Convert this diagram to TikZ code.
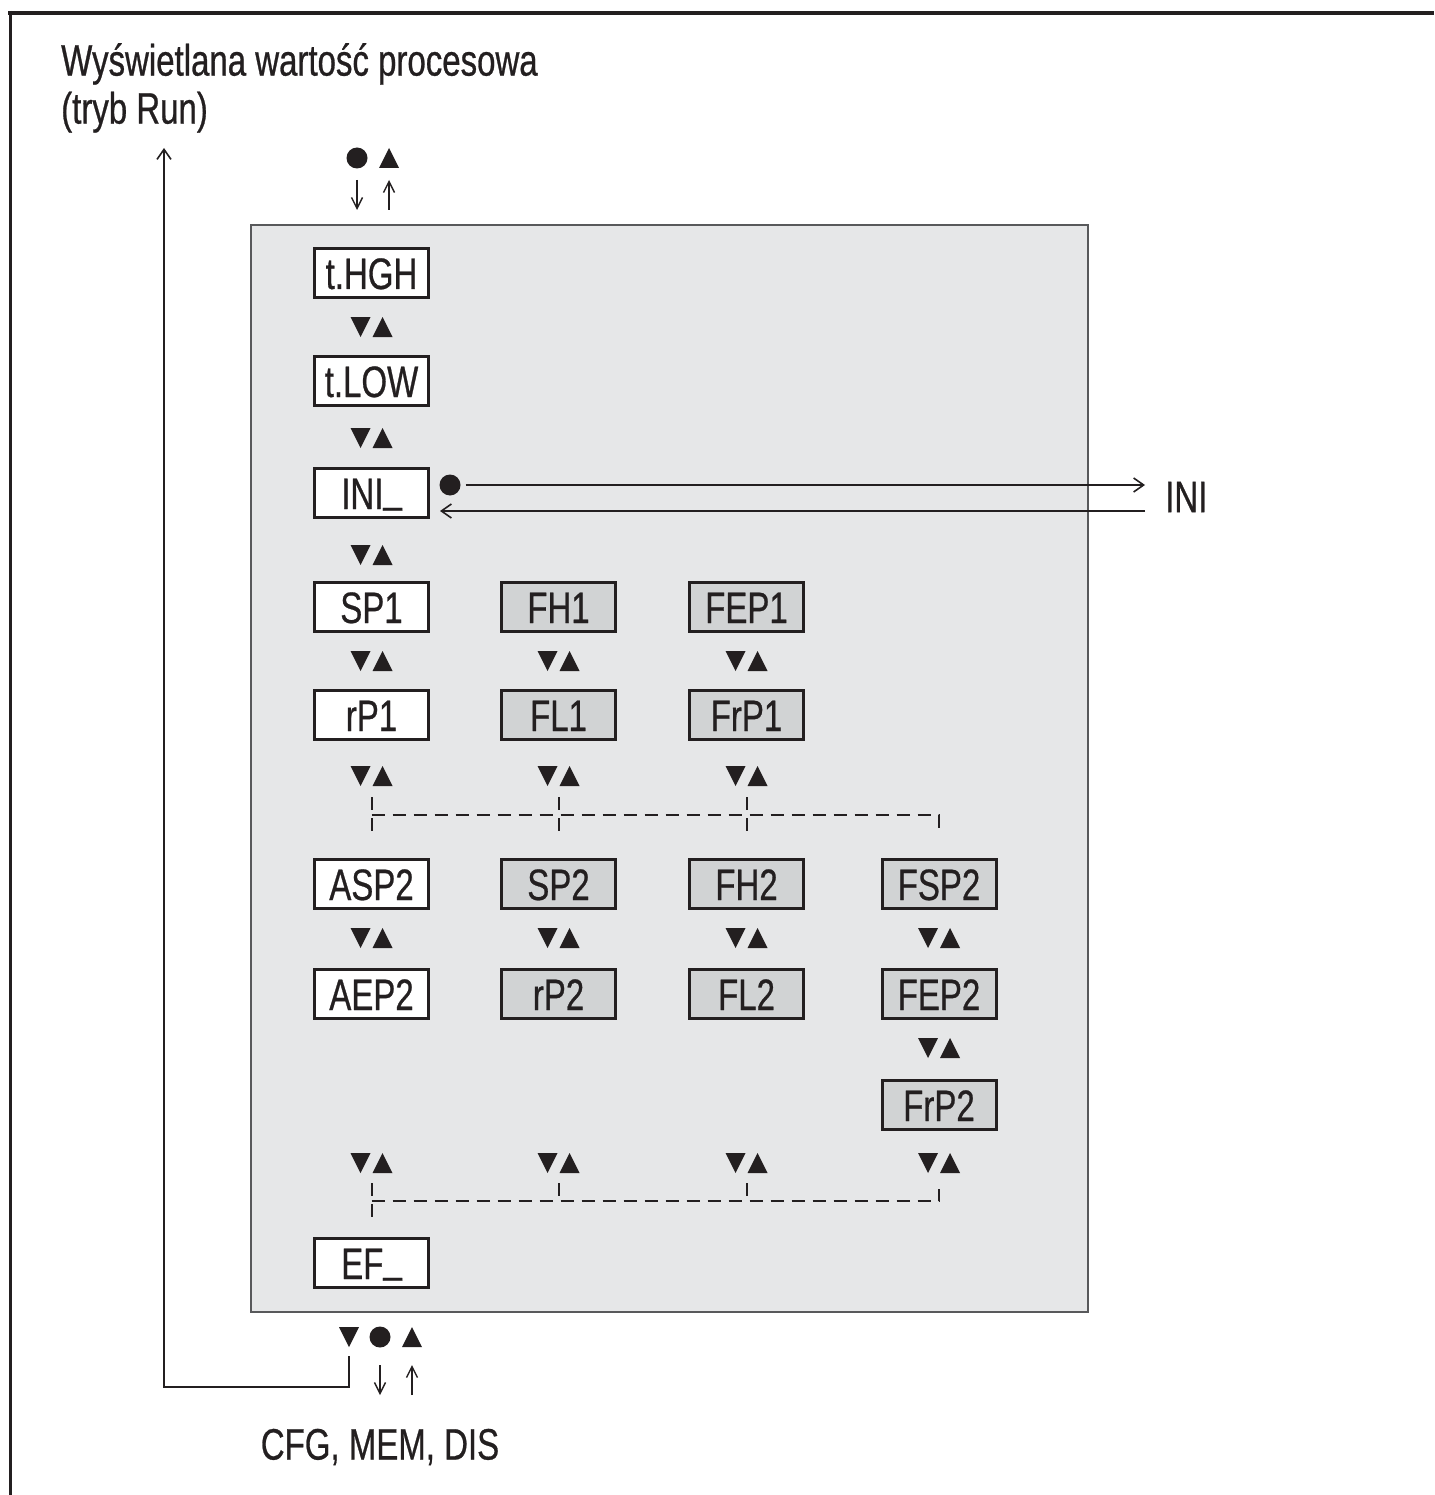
\documentclass[tikz,border=0pt]{standalone}
\usepackage{fontspec}
\setmainfont[FakeStretch=0.75,FakeBold=0.6]{Liberation Sans}
\usetikzlibrary{arrows.meta}
\definecolor{ink}{HTML}{231F20}
\definecolor{panelfill}{HTML}{E6E7E8}
\definecolor{boxgray}{HTML}{D1D3D4}
\definecolor{panelline}{HTML}{58595B}
\newcommand{\lowbar}{\raisebox{0.16em}{\_}}
\begin{document}
\begin{tikzpicture}[x=1pt,y=-1pt,
  lbl/.style={font=\fontsize{44}{48}\selectfont, text=ink, inner sep=0pt},
  param/.style={lbl, draw=ink, line width=3pt, fill=white, minimum width=114pt, minimum height=49pt, text height=32pt, text depth=0pt},
  paramg/.style={param, fill=boxgray},
  dashlink/.style={draw=ink, line width=2pt, dash pattern=on 13pt off 8pt},
  flow/.style={draw=ink, line width=1.6pt, -{Straight Barb[length=10pt,width=14pt]}},
  smallflow/.style={draw=ink, line width=1.4pt, -{Straight Barb[length=11pt,width=11pt]}},
  bigdot/.style={circle, fill=ink, minimum size=21pt, inner sep=0pt},
  tdown/.pic={\fill[ink] (-10,-10) -- (10,-10) -- (0,10) -- cycle;},
  tup/.pic={\fill[ink] (-10,10) -- (10,10) -- (0,-10) -- cycle;},
  updown/.pic={\pic at (-11,0) {tdown}; \pic at (11,0) {tup};}
]
\useasboundingbox[fill=white] (0,0) rectangle (1434,1495);
% frame
\draw[ink, line width=4pt] (8,13) -- (1434,13);
\draw[ink, line width=3pt] (10,11) -- (10,1495);
% panel
\node[draw=panelline, fill=panelfill, line width=1.5pt, minimum width=837pt, minimum height=1087pt, inner sep=0pt] (panel) at (669.5,768.5) {};
% title
\node[lbl, anchor=north west, align=left] (title) at (61,43) {Wyświetlana wartość procesowa\\(tryb Run)};
% top entry
\node[bigdot] (topdot) at (357,158) {};
\pic at (389,158) {tup};
\coordinate (ta1) at (357,180); \coordinate (ta2) at (357,210);
\coordinate (tb1) at (389,210); \coordinate (tb2) at (389,180);
\draw[smallflow] (ta1) -- (ta2);
\draw[smallflow] (tb1) -- (tb2);
% column 1
\node[param] (thgh) at (371.5,273) {t.HGH};
\pic at (371.5,327) {updown};
\node[param] (tlow) at (371.5,381) {t.LOW};
\pic at (371.5,438) {updown};
\node[param] (ini_) at (371.5,493) {INI\lowbar};
\pic at (371.5,555) {updown};
\node[param] (sp1) at (371.5,607) {SP1};
\pic at (371.5,661) {updown};
\node[param] (rp1) at (371.5,715) {rP1};
% column 2
\node[paramg] (fh1) at (558.5,607) {FH1};
\pic at (558.5,661) {updown};
\node[paramg] (fl1) at (558.5,715) {FL1};
% column 3
\node[paramg] (fep1) at (746.5,607) {FEP1};
\pic at (746.5,661) {updown};
\node[paramg] (frp1) at (746.5,715) {FrP1};
% row of triangles
\pic at (371.5,776) {updown};
\pic at (558.5,776) {updown};
\pic at (746.5,776) {updown};
% upper dashed distribution
\draw[dashlink] (371.5,797) -- (371.5,835);
\draw[dashlink] (558.5,797) -- (558.5,835);
\draw[dashlink] (746.5,797) -- (746.5,835);
\draw[dashlink] (371.5,815) -- (939,815) -- (939,835);
% second group
\node[param] (asp2) at (371.5,884) {ASP2};
\node[paramg] (sp2) at (558.5,884) {SP2};
\node[paramg] (fh2) at (746.5,884) {FH2};
\node[paramg] (fsp2) at (939,884) {FSP2};
\pic at (371.5,938) {updown};
\pic at (558.5,938) {updown};
\pic at (746.5,938) {updown};
\pic at (939,938) {updown};
\node[param] (aep2) at (371.5,994) {AEP2};
\node[paramg] (rp2) at (558.5,994) {rP2};
\node[paramg] (fl2) at (746.5,994) {FL2};
\node[paramg] (fep2) at (939,994) {FEP2};
\pic at (939,1048) {updown};
\node[paramg] (frp2) at (939,1105) {FrP2};
\pic at (371.5,1163) {updown};
\pic at (558.5,1163) {updown};
\pic at (746.5,1163) {updown};
\pic at (939,1163) {updown};
% lower dashed collection
\draw[dashlink] (371.5,1183) -- (371.5,1222);
\draw[dashlink] (558.5,1183) -- (558.5,1201);
\draw[dashlink] (746.5,1183) -- (746.5,1201);
\draw[dashlink] (371.5,1201) -- (939,1201) -- (939,1183);
\node[param] (ef_) at (371.5,1263) {EF\lowbar};
% INI branch
\node[bigdot] (inidot) at (450,485) {};
\node[lbl, anchor=west] (ini) at (1165,497) {INI};
\coordinate (iniout) at (1145,485);
\coordinate (iniback) at (1145,511);
\coordinate (inireturn) at (440,511);
\draw[flow] ([xshift=5pt]inidot.east) -- (iniout);
\draw[flow] (iniback) -- (inireturn);
% bottom exit
\pic at (349,1337) {tdown};
\node[bigdot] (botdot) at (380,1337) {};
\pic at (412,1337) {tup};
\coordinate (ba1) at (380,1365); \coordinate (ba2) at (380,1395);
\coordinate (bb1) at (412,1395); \coordinate (bb2) at (412,1365);
\draw[smallflow] (ba1) -- (ba2);
\draw[smallflow] (bb1) -- (bb2);
\node[lbl] (cfg) at (380,1447) {CFG, MEM, DIS};
% loop back to run mode
\coordinate (loopstart) at (349,1356);
\coordinate (runin) at (164,148);
\draw[flow] (loopstart) -- ++(0,31) -| (runin);
\end{tikzpicture}
\end{document}
